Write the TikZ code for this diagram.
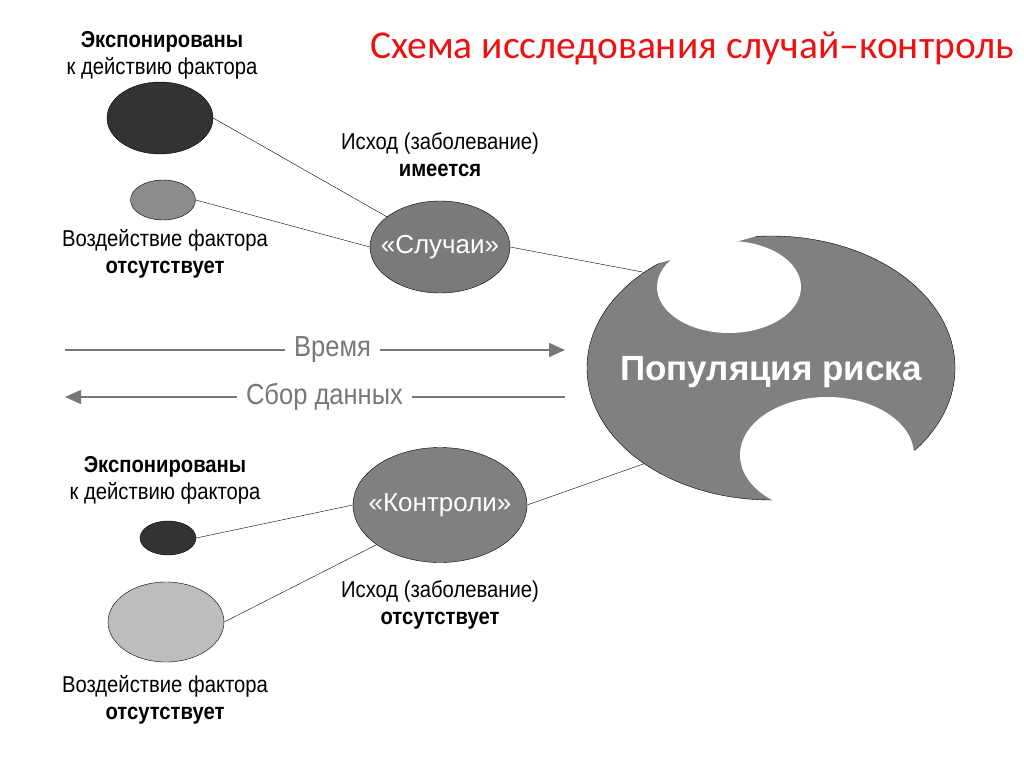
\documentclass[tikz,border=0pt]{standalone}
\usepackage{fontspec}
\setmainfont{Liberation Sans}
\newfontfamily\narrowfont[FakeStretch=0.88]{Liberation Sans}
\newfontfamily\titlefont{Carlito}
\usetikzlibrary{shapes.geometric, arrows.meta, positioning}
\definecolor{darkfill}{HTML}{333333}
\definecolor{midfill}{HTML}{8C8C8C}
\definecolor{lightfill}{HTML}{BDBDBD}
\definecolor{groupfill}{HTML}{7A7A7A}
\definecolor{popfill}{HTML}{808080}
\definecolor{axisgray}{HTML}{777777}
\definecolor{titlered}{HTML}{EE1111}

\begin{document}
\begin{tikzpicture}[
    x=1pt, y=-1pt,
    blob/.style={ellipse, draw, inner sep=0pt},
    group/.style={blob, inner xsep=-12pt, fill=groupfill, text=white, font=\fontsize{26}{28}\selectfont},
    caption/.style={align=center, font=\narrowfont\fontsize{23}{27}\selectfont},
    link/.style={thin},
    timeline/.style={axisgray, line width=1.5pt},
    tip/.style={-{Triangle[length=16pt, width=14pt]}},
    timelabel/.style={fill=white, inner xsep=9pt, text=axisgray, font=\narrowfont\fontsize{29}{30}\selectfont}
]
    \useasboundingbox (0,0) rectangle (1024,767);

    \node[text=titlered, font=\titlefont\fontsize{39.5}{42}\selectfont] (title) at (692,48) {Схема исследования случай–контроль};

    % upper group: cases
    \node[caption] (exp1) at (162,55) {\textbf{Экспонированы}\\к действию фактора};
    \node[blob, fill=darkfill, minimum width=106, minimum height=72] (dark1) at (160,118) {};
    \node[blob, fill=midfill, minimum width=65, minimum height=40] (mid1) at (163,200) {};
    \node[caption] (abs1) at (165,254) {Воздействие фактора\\\textbf{отсутствует}};
    \node[caption] (out1) at (440,155) {Исход (заболевание)\\\textbf{имеется}};
    \node[group, minimum width=140, minimum height=92] (cases) at (440,247) {«Случаи»};

    % lower group: controls
    \node[caption] (exp2) at (165,480) {\textbf{Экспонированы}\\к действию фактора};
    \node[blob, fill=darkfill, minimum width=56, minimum height=34] (dark2) at (168,538) {};
    \node[blob, fill=lightfill, minimum width=116, minimum height=80] (light2) at (166,622) {};
    \node[caption] (abs2) at (165,700) {Воздействие фактора\\\textbf{отсутствует}};
    \node[caption] (out2) at (440,605) {Исход (заболевание)\\\textbf{отсутствует}};
    \node[group, fill=popfill, minimum width=174, minimum height=115] (controls) at (440,505) {«Контроли»};

    % population of risk
    \node[blob, fill=popfill, minimum width=368, minimum height=264] (pop) at (771,368) {};
    \fill[white] (729,287) ellipse [x radius=72, y radius=46];
    \fill[white] (620,274) -- (800,224) -- (800,200) -- (620,200) -- cycle;
    \fill[white] (827,455) ellipse [x radius=87, y radius=58];
    \fill[white] (700,528) -- (960,434) -- (960,560) -- (700,560) -- cycle;
    \node[text=white, font=\bfseries\fontsize{35}{38}\selectfont] (poplabel) at (771,372) {Популяция риска};

    \draw[link] (dark1.east) -- (cases);
    \draw[link] (mid1.east) -- (cases.west);
    \draw[link] (cases.east) -- (pop.143);
    \draw[link] (dark2.east) -- (controls.west);
    \draw[link] (light2.east) -- (controls.212);
    \draw[link] (controls.east) -- (pop.217);

    % time and data collection
    \coordinate (tl) at (65,350);
    \coordinate (tr) at (565,350);
    \coordinate (dl) at (65,397);
    \coordinate (dr) at (565,397);
    \draw[timeline, tip] (tl) -- node[timelabel, pos=0.535] (time) {Время} (tr);
    \draw[timeline, tip] (dr) -- node[timelabel, pos=0.481] (data) {Сбор данных} (dl);
\end{tikzpicture}
\end{document}
